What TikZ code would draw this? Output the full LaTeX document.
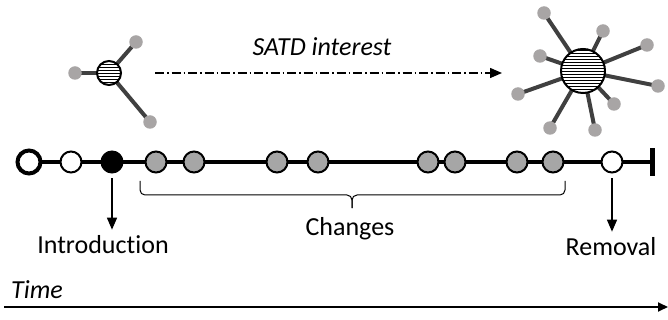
\documentclass[tikz,border=0pt]{standalone}
\usepackage{fontspec}
\setmainfont{Carlito}[Ligatures=NoCommon]
\usetikzlibrary{arrows.meta,backgrounds}
\definecolor{dotgray}{RGB}{168,165,165}
\definecolor{evgray}{RGB}{166,166,166}
\definecolor{armgray}{RGB}{64,64,64}
\tikzset{
  evt/.style={circle,draw=black,line width=2pt,minimum size=21pt,inner sep=0pt},
  chg/.style={evt,fill=evgray},
  ball/.style={circle,draw=black,line width=2pt,fill=white,inner sep=0pt,
    path picture={\foreach \k in {-33,-30,...,33}
      \draw[line width=0.7pt] ([xshift=-40pt,yshift=\k pt]path picture bounding box.center) -- ++(80pt,0pt);}},
  atom/.style={circle,fill=dotgray,minimum size=13.5pt,inner sep=0pt},
  arm/.style={draw=armgray,line width=4pt},
  pointer/.style={line width=1.4pt,-{Triangle[width=10pt,length=12pt]}},
  lbl/.style={font=\fontsize{26}{29}\selectfont,inner sep=0pt},
}
\begin{document}
\begin{tikzpicture}[x=1pt,y=-1pt]
\useasboundingbox (0,0) rectangle (668,320);

% small molecule
\node[ball,minimum size=24pt] (sm) at (109,73) {};
\node[atom] (s1) at (75,73) {};
\node[atom] (s2) at (136,42) {};
\node[atom] (s3) at (150,122) {};
% large molecule
\node[ball,minimum size=44pt] (lg) at (583,71) {};
\foreach \n/\p in {1/{544,13},2/{603,31},3/{647,45},4/{540,56},5/{658,86},
                   6/{518,94},7/{614,104},8/{550,128},9/{595,130}}
  \node[atom] (l\n) at (\p) {};
\begin{pgfonlayer}{background}
  \foreach \n in {1,2,3} \draw[arm] (sm.center) -- (s\n.center);
  \foreach \n in {1,...,9} \draw[arm] (lg.center) -- (l\n.center);
\end{pgfonlayer}

% interest grows
\coordinate (ia) at (155,73);
\coordinate (ib) at (502,73);
\draw[pointer,dash pattern=on 9pt off 3pt on 1.5pt off 3pt] (ia) -- (ib);
\node[lbl,font=\fontsize{26}{29}\selectfont\itshape] (sat) at (322,47) {SATD interest};

% timeline
\node[circle,draw=black,line width=4pt,fill=white,minimum size=23pt,inner sep=0pt] (t0) at (29,162) {};
\node[evt,fill=white] (t1) at (71,162) {};
\node[evt,fill=black] (t2) at (112,162) {};
\foreach \n/\x in {1/156,2/194,3/277,4/318,5/428,6/455,7/517,8/553}
  \node[chg] (c\n) at (\x,162) {};
\node[evt,fill=white] (t3) at (612,162) {};
\coordinate (tend) at (652,162);
\begin{pgfonlayer}{background}
  \draw[line width=4pt] (t0.center) -- (tend);
\end{pgfonlayer}
\draw[line width=5pt] ([yshift=-14pt]tend) -- ([yshift=14pt]tend);

% annotations
\node[lbl] (intro) at (103,245) {Introduction};
\node[lbl] (chgs) at (350,229) {Changes};
\node[lbl] (rem) at (611,247) {Removal};
\draw[pointer] ([yshift=-5pt]t2.south) -- ([yshift=6pt]intro.north -| t2);
\draw[pointer] ([yshift=-5pt]t3.south) -- ([yshift=6pt]rem.north -| t3);
\coordinate (bl) at (140,181);
\coordinate (br) at (565,181);
\coordinate (bm) at (352,195);
\draw[line width=1pt,rounded corners=5pt] (bl) -- (bl |- bm) -- (bm) -- ++(0,13);
\draw[line width=1pt,rounded corners=5pt] (br) -- (br |- bm) -- (bm) -- ++(0,13);

% time axis
\node[lbl,font=\fontsize{26}{29}\selectfont\itshape,anchor=west] (time) at (11,290) {Time};
\coordinate (ta) at (4,307);
\coordinate (tb) at (668,307);
\draw[line width=1.8pt,-{Triangle[width=9pt,length=10pt]}] (ta) -- (tb);
\end{tikzpicture}
\end{document}
